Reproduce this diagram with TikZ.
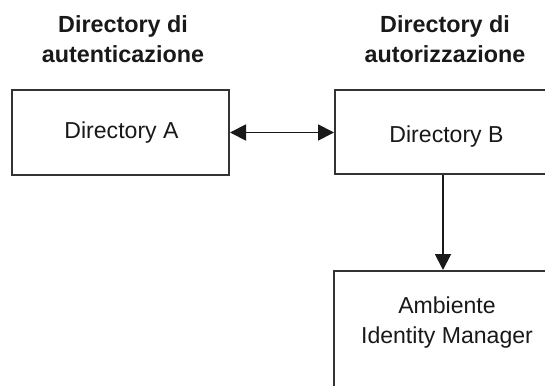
\documentclass[tikz,border=0pt]{standalone}
\usepackage{fontspec}
\setmainfont{Liberation Sans}
\usetikzlibrary{arrows.meta,fit}
\tikzset{
  box/.style={draw=black!80, line width=1.5pt, inner sep=0pt, rectangle},
  lbl/.style={anchor=base, inner sep=0pt, text=black!90, font=\fontsize{17.3}{22.5}\selectfont},
  head/.style={lbl, font=\fontsize{17.5}{22.5}\selectfont\bfseries},
  tip/.tip={Triangle[length=12pt,width=12pt]},
  conn/.style={draw=black!90, line width=1.4pt, arrows={-tip}},
  conn2/.style={draw=black!90, line width=1.4pt, arrows={tip-tip}}
}
\begin{document}
\begin{tikzpicture}[x=0.75pt,y=-0.75pt]
\useasboundingbox (0,0) rectangle (545,385);
\clip (0,0) rectangle (545,385);
\fill[white] (0,0) rectangle (545,385);
% boxes
\node[box, fit={(12,90) (229,175)}] (A) {};
\node[box, fit={(335,90) (551,174)}] (B) {};
\node[box, fit={(334,271) (552,400)}] (C) {};
% labels
\node[lbl] (tA) at (121.5,138) {Directory A};
\node[lbl] (tB) at (446.5,142) {Directory B};
\node[lbl] (tC) at (447,313) {\begin{tabular}[t]{@{}c@{}}Ambiente\\Identity Manager\end{tabular}};
% headings
\node[head] (hA) at (123,33) {\begin{tabular}[t]{@{}c@{}}Directory di\\autenticazione\end{tabular}};
\node[head] (hB) at (445,33) {\begin{tabular}[t]{@{}c@{}}Directory di\\autorizzazione\end{tabular}};
% connectors
\draw[conn2] (A.east) -- (A.east -| B.west);
\draw[conn] (B.south) -- (C.north);
\end{tikzpicture}
\end{document}
